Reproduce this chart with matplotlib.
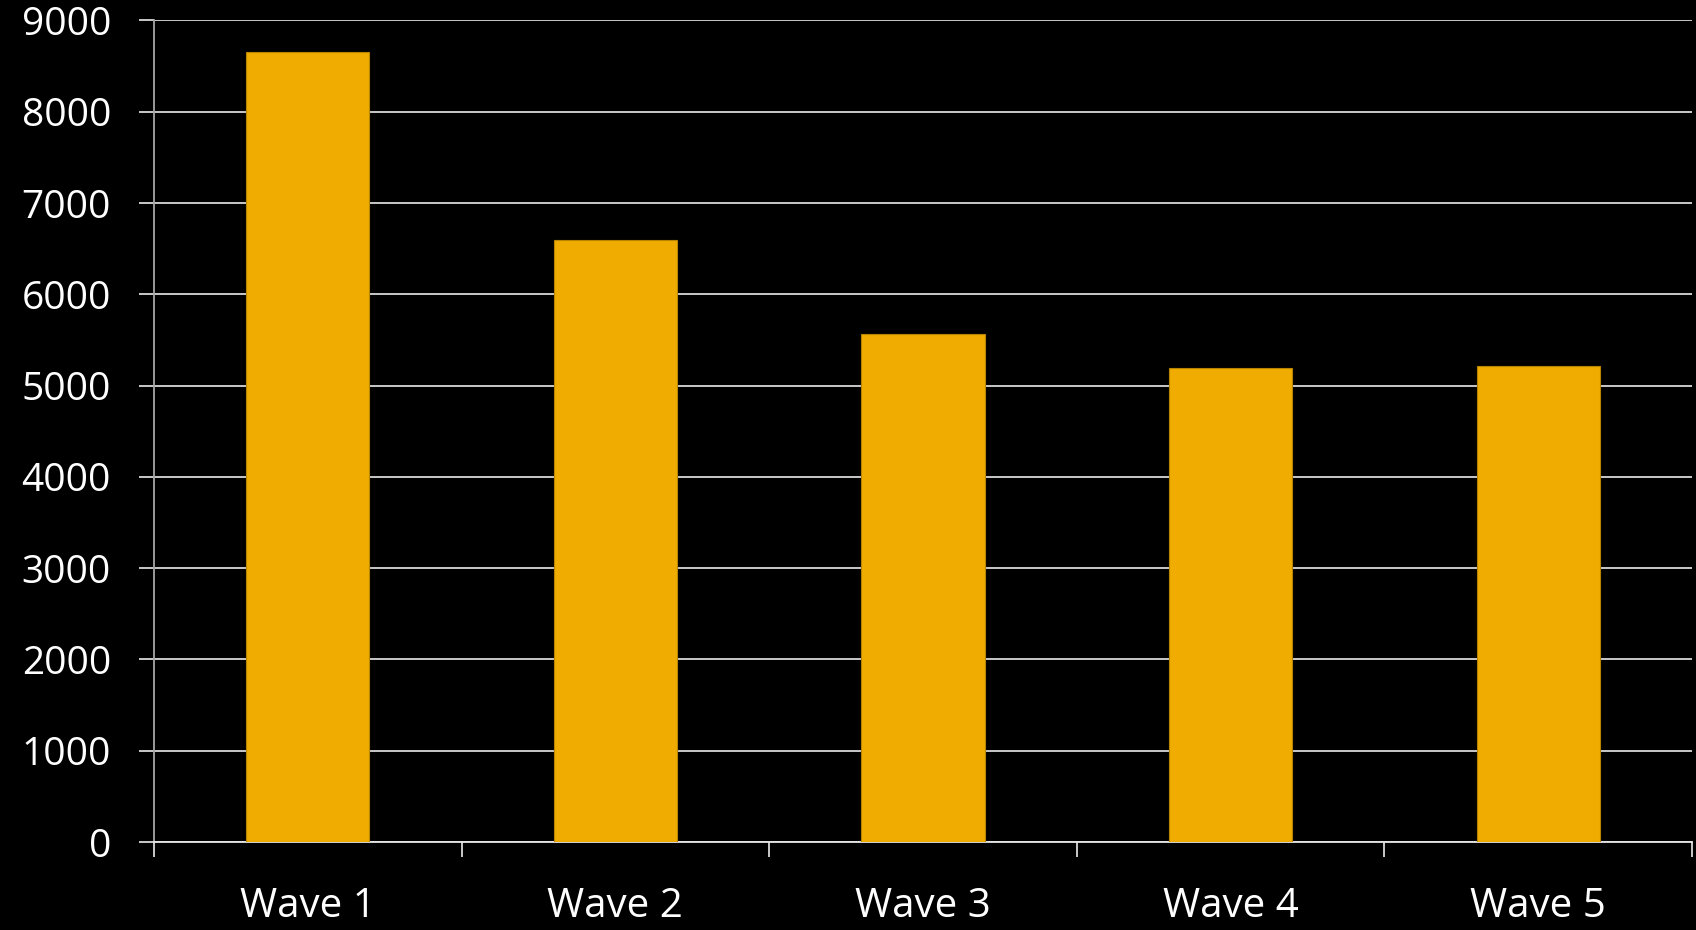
import matplotlib
matplotlib.use("Agg")
import matplotlib.pyplot as plt

categories = ["Wave 1", "Wave 2", "Wave 3", "Wave 4", "Wave 5"]
values = [8660, 6600, 5560, 5190, 5220]
yticks = [0, 1000, 2000, 3000, 4000, 5000, 6000, 7000, 8000, 9000]

plt.rcParams['font.family'] = ['Open Sans', 'DejaVu Sans']

fig = plt.figure(figsize=(16.96, 9.30), dpi=100, facecolor='black')
ax = fig.add_axes([154/1696, 1 - 842/930, (1692-154)/1696, (842-20.5)/930])
ax.set_facecolor('black')

x = list(range(len(categories)))
ax.bar(x, values, width=0.4, color='#F0AC00', edgecolor='#B88400', linewidth=0.8, zorder=3)

ax.set_xlim(-0.5, len(categories) - 0.5)
ax.set_ylim(0, 9000)
ax.set_yticks(yticks)
ax.set_yticklabels([str(v) for v in yticks])
ax.set_xticks([i + 0.5 for i in range(-1, len(categories))], minor=False)
ax.set_xticklabels([])
ax.set_xticks(x, minor=True)
ax.set_xticklabels(categories, minor=True)

ax.yaxis.grid(True, color='#d9d9d9', linewidth=1.3, zorder=0)
ax.xaxis.grid(False)

for s in ['top', 'right']:
    ax.spines[s].set_visible(False)
ax.spines['left'].set_color('#a6a6a6')
ax.spines['left'].set_linewidth(1.3)
ax.spines['bottom'].set_color('#e6e6e6')
ax.spines['bottom'].set_linewidth(1.3)

ax.tick_params(axis='y', which='major', direction='out', length=11, width=1.3,
               color='#d9d9d9', labelcolor='white', labelsize=28, pad=20)
ax.tick_params(axis='x', which='major', direction='out', length=11, width=1.3,
               color='#d9d9d9')
ax.tick_params(axis='x', which='minor', length=0, labelcolor='white', labelsize=29, pad=32)

fig.savefig("out.png", dpi=100, facecolor='black')
